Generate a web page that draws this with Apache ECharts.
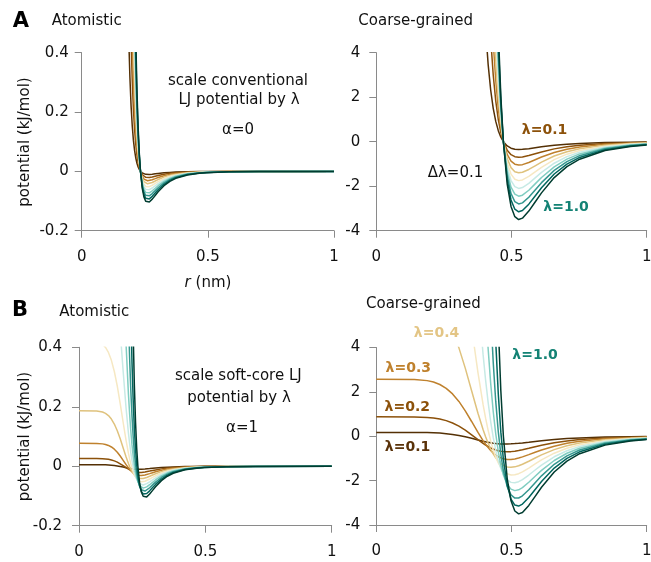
<!DOCTYPE html>
<html><head><meta charset="utf-8">
<script src="https://cdn.jsdelivr.net/npm/echarts@6/dist/echarts.min.js"></script>
<style>html,body{margin:0;padding:0;background:#fff}#c{width:651px;height:562px}</style>
</head><body><div id="c"></div>
<script>
// ---------- data ----------
const lambdas = ['0.1','0.2','0.3','0.4','0.5','0.6','0.7','0.8','0.9','1.0'];
const xTicks = [0, 0.5, 1];

// A, atomistic, conventional LJ scaled by lambda
const xAtomConv = [0.1864,0.1911,0.1957,0.2004,0.205,0.2097,0.2144,0.219,0.2237,0.2283,0.233,0.24,0.247,0.254,0.261,0.268,0.2796,0.2913,0.3029,0.3262,0.3495,0.3728,0.4194,0.466,0.4958,0.5825,0.699,1.0];
const atomConvY = [
[0.451,0.3163,0.2208,0.1528,0.1043,0.0697,0.045,0.0274,0.0149,0.0061,0,-0.0057,-0.0087,-0.0101,-0.0105,-0.0103,-0.0094,-0.0081,-0.0069,-0.0048,-0.0034,-0.0024,-0.0012,-0.0006,-0.0004,-0.0002,-0.0001,0],
[0.902,0.6326,0.4416,0.3056,0.2086,0.1394,0.0899,0.0547,0.0298,0.0122,0,-0.0114,-0.0175,-0.0202,-0.021,-0.0206,-0.0187,-0.0162,-0.0138,-0.0097,-0.0067,-0.0047,-0.0024,-0.0013,-0.0009,-0.0003,-0.0001,0],
[1.353,0.9489,0.6624,0.4584,0.3129,0.209,0.1349,0.0821,0.0447,0.0183,0,-0.0171,-0.0262,-0.0303,-0.0315,-0.0309,-0.0281,-0.0244,-0.0207,-0.0145,-0.0101,-0.0071,-0.0036,-0.0019,-0.0013,-0.0005,-0.0002,0],
[1.804,1.2652,0.8832,0.6112,0.4172,0.2787,0.1798,0.1095,0.0596,0.0244,0,-0.0229,-0.0349,-0.0404,-0.042,-0.0412,-0.0374,-0.0325,-0.0276,-0.0193,-0.0135,-0.0094,-0.0048,-0.0026,-0.0018,-0.0007,-0.0002,0],
[2.255,1.5815,1.104,0.764,0.5215,0.3484,0.2248,0.1369,0.0745,0.0306,0,-0.0286,-0.0437,-0.0506,-0.0525,-0.0515,-0.0468,-0.0406,-0.0345,-0.0242,-0.0168,-0.0118,-0.006,-0.0032,-0.0022,-0.0009,-0.0003,0],
[2.706,1.8978,1.3248,0.9168,0.6258,0.4181,0.2698,0.1642,0.0893,0.0367,0,-0.0343,-0.0524,-0.0607,-0.063,-0.0618,-0.0561,-0.0487,-0.0414,-0.029,-0.0202,-0.0141,-0.0072,-0.0039,-0.0027,-0.001,-0.0003,0],
[3.157,2.2141,1.5456,1.0696,0.7301,0.4878,0.3147,0.1916,0.1042,0.0428,0,-0.04,-0.0612,-0.0708,-0.0735,-0.0722,-0.0655,-0.0569,-0.0483,-0.0339,-0.0235,-0.0165,-0.0084,-0.0045,-0.0031,-0.0012,-0.0004,0],
[3.608,2.5304,1.7664,1.2224,0.8344,0.5574,0.3597,0.219,0.1191,0.0489,0,-0.0457,-0.0699,-0.0809,-0.084,-0.0825,-0.0748,-0.065,-0.0552,-0.0387,-0.0269,-0.0188,-0.0096,-0.0052,-0.0036,-0.0014,-0.0005,-0.0001],
[4.059,2.8467,1.9872,1.3752,0.9387,0.6271,0.4046,0.2463,0.134,0.055,0,-0.0514,-0.0786,-0.091,-0.0945,-0.0928,-0.0842,-0.0731,-0.0621,-0.0435,-0.0303,-0.0212,-0.0108,-0.0058,-0.004,-0.0015,-0.0005,-0.0001],
[4.51,3.163,2.208,1.528,1.043,0.6968,0.4496,0.2737,0.1489,0.0611,0,-0.0572,-0.0874,-0.1011,-0.105,-0.1031,-0.0936,-0.0812,-0.069,-0.0484,-0.0336,-0.0235,-0.012,-0.0065,-0.0045,-0.0017,-0.0006,-0.0001]
];

// A, coarse-grained, conventional LJ scaled by lambda
const xCGConv = [0.3948,0.4042,0.4136,0.423,0.4324,0.4418,0.4512,0.4606,0.47,0.4841,0.4982,0.5123,0.5264,0.5405,0.564,0.5875,0.611,0.658,0.705,0.752,0.846,0.94,1.0];
const cgConvY = [
[7.36,5.093,3.477,2.323,1.499,0.9125,0.4963,0.2037,0,-0.1905,-0.2912,-0.337,-0.3499,-0.3436,-0.3119,-0.2708,-0.23,-0.1612,-0.1121,-0.0785,-0.0399,-0.0215,-0.0149],
[14.72,10.186,6.954,4.646,2.998,1.825,0.9926,0.4074,0,-0.381,-0.5824,-0.674,-0.6998,-0.6872,-0.6238,-0.5416,-0.46,-0.3224,-0.2242,-0.157,-0.0798,-0.043,-0.0298],
[22.08,15.279,10.431,6.969,4.497,2.7375,1.4889,0.6111,0,-0.5715,-0.8736,-1.011,-1.0497,-1.0308,-0.9357,-0.8124,-0.69,-0.4836,-0.3363,-0.2355,-0.1197,-0.0645,-0.0447],
[29.44,20.372,13.908,9.292,5.996,3.65,1.9852,0.8148,0,-0.762,-1.1648,-1.348,-1.3996,-1.3744,-1.2476,-1.0832,-0.92,-0.6448,-0.4484,-0.314,-0.1596,-0.086,-0.0596],
[36.8,25.465,17.385,11.615,7.495,4.5625,2.4815,1.0185,0,-0.9525,-1.456,-1.685,-1.7495,-1.718,-1.5595,-1.354,-1.15,-0.806,-0.5605,-0.3925,-0.1995,-0.1075,-0.0745],
[44.16,30.558,20.862,13.938,8.994,5.475,2.9778,1.2222,0,-1.143,-1.7472,-2.022,-2.0994,-2.0616,-1.8714,-1.6248,-1.38,-0.9672,-0.6726,-0.471,-0.2394,-0.129,-0.0894],
[51.52,35.651,24.339,16.261,10.493,6.3875,3.4741,1.4259,0,-1.3335,-2.0384,-2.359,-2.4493,-2.4052,-2.1833,-1.8956,-1.61,-1.1284,-0.7847,-0.5495,-0.2793,-0.1505,-0.1043],
[58.88,40.744,27.816,18.584,11.992,7.3,3.9704,1.6296,0,-1.524,-2.3296,-2.696,-2.7992,-2.7488,-2.4952,-2.1664,-1.84,-1.2896,-0.8968,-0.628,-0.3192,-0.172,-0.1192],
[66.24,45.837,31.293,20.907,13.491,8.2125,4.4667,1.8333,0,-1.7145,-2.6208,-3.033,-3.1491,-3.0924,-2.8071,-2.4372,-2.07,-1.4508,-1.0089,-0.7065,-0.3591,-0.1935,-0.1341],
[73.6,50.93,34.77,23.23,14.99,9.125,4.963,2.037,0,-1.905,-2.912,-3.37,-3.499,-3.436,-3.119,-2.708,-2.3,-1.612,-1.121,-0.785,-0.399,-0.215,-0.149]
];

// B, atomistic, soft-core LJ (alpha = 1)
const xAtomSoft = [0,0.0699,0.0932,0.1049,0.1165,0.1282,0.1398,0.1515,0.1631,0.1748,0.1864,0.1957,0.2004,0.205,0.2097,0.2144,0.219,0.2237,0.2283,0.233,0.24,0.247,0.254,0.261,0.268,0.2796,0.2913,0.3029,0.3262,0.3495,0.3728,0.4194,0.466,0.4958,0.5825,0.699,1.0];
const atomSoftY = [
[0.0052,0.0051,0.0049,0.0047,0.0042,0.0035,0.0025,0.0011,-0.0007,-0.0028,-0.005,-0.0067,-0.0075,-0.0082,-0.0088,-0.0094,-0.0098,-0.0101,-0.0103,-0.0105,-0.0105,-0.0103,-0.01,-0.0095,-0.009,-0.008,-0.007,-0.0061,-0.0044,-0.0031,-0.0022,-0.0012,-0.0006,-0.0004,-0.0002,-0.0001,0],
[0.0263,0.0261,0.0255,0.0246,0.0233,0.0211,0.018,0.0137,0.0082,0.0019,-0.0046,-0.0096,-0.0118,-0.0139,-0.0157,-0.0173,-0.0185,-0.0195,-0.0203,-0.0207,-0.021,-0.0208,-0.0202,-0.0194,-0.0183,-0.0163,-0.0143,-0.0123,-0.0089,-0.0063,-0.0045,-0.0023,-0.0013,-0.0009,-0.0003,-0.0001,0],
[0.0771,0.0768,0.0752,0.0733,0.07,0.0648,0.0573,0.0471,0.0344,0.0199,0.0052,-0.0058,-0.0108,-0.0153,-0.0192,-0.0226,-0.0254,-0.0277,-0.0294,-0.0305,-0.0314,-0.0314,-0.0307,-0.0295,-0.0279,-0.0249,-0.0217,-0.0187,-0.0135,-0.0096,-0.0068,-0.0035,-0.0019,-0.0013,-0.0005,-0.0002,0],
[0.1867,0.1859,0.1823,0.1778,0.1704,0.1588,0.142,0.1195,0.0921,0.0616,0.0312,0.009,-0.0008,-0.0096,-0.0173,-0.0238,-0.0293,-0.0336,-0.037,-0.0394,-0.0414,-0.042,-0.0414,-0.0399,-0.0379,-0.0338,-0.0294,-0.0253,-0.0181,-0.0128,-0.0091,-0.0047,-0.0026,-0.0018,-0.0007,-0.0002,0],
[0.42,0.4182,0.4098,0.3996,0.3826,0.3562,0.3186,0.2693,0.2105,0.1471,0.086,0.0431,0.0245,0.008,-0.0062,-0.0182,-0.0282,-0.0361,-0.0422,-0.0467,-0.0508,-0.0524,-0.0522,-0.0506,-0.0481,-0.043,-0.0374,-0.032,-0.0229,-0.0162,-0.0115,-0.0059,-0.0032,-0.0022,-0.0009,-0.0003,0],
[0.945,0.9404,0.9196,0.8944,0.8525,0.7885,0.699,0.5849,0.4536,0.3184,0.1942,0.111,0.0761,0.0457,0.0199,-0.0016,-0.0191,-0.0329,-0.0436,-0.0514,-0.0589,-0.0624,-0.0629,-0.0614,-0.0586,-0.0524,-0.0456,-0.039,-0.0278,-0.0196,-0.0138,-0.0071,-0.0039,-0.0027,-0.001,-0.0003,0],
[2.2867,2.2732,2.2125,2.1395,2.0198,1.8409,1.5984,1.3029,0.9815,0.6718,0.4074,0.2417,0.175,0.1185,0.0717,0.0335,0.003,-0.0208,-0.0389,-0.0522,-0.0651,-0.0715,-0.0735,-0.0724,-0.0695,-0.0622,-0.0541,-0.0462,-0.0328,-0.023,-0.0162,-0.0083,-0.0045,-0.0031,-0.0012,-0.0004,0],
[6.72,6.6652,6.42,6.1307,5.6683,5.0057,4.1604,3.2095,2.2722,1.4629,0.8461,0.496,0.3635,0.2554,0.1687,0.1001,0.0467,0.006,-0.0245,-0.0467,-0.0681,-0.0793,-0.0836,-0.0835,-0.0805,-0.0724,-0.0628,-0.0535,-0.0378,-0.0265,-0.0186,-0.0095,-0.0052,-0.0036,-0.0014,-0.0005,-0.0001],
[34.02,33.5,31.25,28.74,25.0,20.23,15.0,10.13,6.243,3.532,1.8385,1.0183,0.7356,0.5169,0.3494,0.2225,0.1273,0.0569,0.0055,-0.0312,-0.0664,-0.085,-0.093,-0.0944,-0.0917,-0.0828,-0.0719,-0.0611,-0.0431,-0.03,-0.0211,-0.0108,-0.0058,-0.004,-0.0015,-0.0005,-0.0001],
[null,null,null,null,null,null,null,null,null,null,4.51,2.208,1.528,1.043,0.6968,0.4496,0.2737,0.1489,0.0611,0,-0.0572,-0.0874,-0.1011,-0.105,-0.1031,-0.0936,-0.0812,-0.069,-0.0484,-0.0336,-0.0235,-0.012,-0.0065,-0.0045,-0.0017,-0.0006,-0.0001]
];

// B, coarse-grained, soft-core LJ (alpha = 1)
const xCGSoft = [0,0.141,0.188,0.2115,0.235,0.2585,0.282,0.3055,0.329,0.3525,0.376,0.3948,0.4042,0.4136,0.423,0.4324,0.4418,0.4512,0.4606,0.47,0.4841,0.4982,0.5123,0.5264,0.5405,0.564,0.5875,0.611,0.658,0.705,0.752,0.846,0.94,1.0];
const cgSoftY = [
[0.173,0.171,0.164,0.156,0.141,0.118,0.083,0.036,-0.024,-0.094,-0.168,-0.225,-0.251,-0.274,-0.295,-0.312,-0.327,-0.338,-0.345,-0.349,-0.349,-0.343,-0.332,-0.318,-0.3,-0.268,-0.234,-0.202,-0.146,-0.105,-0.075,-0.039,-0.021,-0.015],
[0.875,0.87,0.848,0.822,0.776,0.704,0.599,0.455,0.274,0.064,-0.154,-0.32,-0.395,-0.463,-0.524,-0.575,-0.618,-0.651,-0.676,-0.691,-0.7,-0.693,-0.674,-0.646,-0.611,-0.544,-0.475,-0.409,-0.296,-0.211,-0.15,-0.078,-0.043,-0.03],
[2.571,2.56,2.507,2.442,2.332,2.16,1.909,1.569,1.146,0.665,0.172,-0.195,-0.36,-0.509,-0.641,-0.754,-0.848,-0.922,-0.978,-1.017,-1.047,-1.047,-1.024,-0.983,-0.931,-0.83,-0.724,-0.622,-0.448,-0.319,-0.227,-0.118,-0.064,-0.044],
[6.222,6.196,6.075,5.928,5.68,5.292,4.732,3.984,3.07,2.054,1.039,0.301,-0.025,-0.318,-0.575,-0.794,-0.976,-1.121,-1.232,-1.313,-1.382,-1.4,-1.379,-1.33,-1.262,-1.126,-0.981,-0.842,-0.604,-0.428,-0.304,-0.157,-0.085,-0.059],
[14,13.939,13.661,13.321,12.753,11.874,10.619,8.976,7.016,4.904,2.866,1.436,0.816,0.268,-0.207,-0.608,-0.939,-1.203,-1.406,-1.556,-1.693,-1.747,-1.738,-1.686,-1.604,-1.432,-1.246,-1.067,-0.763,-0.539,-0.382,-0.197,-0.107,-0.074],
[31.5,31.347,30.654,29.813,28.417,26.283,23.298,19.496,15.121,10.612,6.473,3.701,2.536,1.524,0.664,-0.053,-0.636,-1.097,-1.452,-1.714,-1.964,-2.079,-2.097,-2.048,-1.955,-1.748,-1.52,-1.3,-0.926,-0.652,-0.461,-0.237,-0.128,-0.089],
[76.22,75.77,73.75,71.32,67.33,61.36,53.28,43.43,32.72,22.39,13.579,8.056,5.832,3.951,2.39,1.117,0.101,-0.692,-1.295,-1.74,-2.169,-2.384,-2.45,-2.414,-2.315,-2.075,-1.803,-1.539,-1.092,-0.767,-0.54,-0.277,-0.15,-0.104],
[224,222.17,214,204.36,188.94,166.86,138.68,106.98,75.74,48.76,28.2,16.535,12.117,8.514,5.622,3.335,1.558,0.2,-0.815,-1.556,-2.271,-2.644,-2.788,-2.782,-2.683,-2.412,-2.095,-1.785,-1.262,-0.883,-0.621,-0.318,-0.172,-0.119],
[1134,1116.7,1041.8,957.9,833.5,674.2,500,337.7,208.1,117.73,61.28,33.94,24.52,17.229,11.647,7.415,4.244,1.896,0.184,-1.041,-2.213,-2.833,-3.1,-3.146,-3.058,-2.76,-2.396,-2.038,-1.435,-1.001,-0.702,-0.359,-0.194,-0.134],
[null,null,null,null,null,null,null,null,null,null,150.3,73.59,50.93,34.77,23.23,14.99,9.124,4.964,2.037,0,-1.906,-2.912,-3.37,-3.499,-3.436,-3.118,-2.708,-2.3,-1.612,-1.121,-0.785,-0.4,-0.215,-0.149]
];

// ---------- styling ----------
const lineColors = ['#543005','#8c510a','#bf812d','#dfc27d','#f6e8c3','#c7eae5','#80cdc1','#35978f','#01665e','#003c30'];
const FF = '"DejaVu Sans", sans-serif';
const axisGray = '#8a8a8a';
const textCol = '#111111';

const panels = [
  {x: xAtomConv, ys: atomConvY, grid: {left: 81.7, top: 52.7, width: 252.3, height: 178}, yMin: -0.2, yMax: 0.4, yInt: 0.2, yMargin: 13, xMargin: 19},
  {x: xCGConv, ys: cgConvY, grid: {left: 376.3, top: 52.7, width: 270.4, height: 178}, yMin: -4, yMax: 4, yInt: 2, yMargin: 16, xMargin: 19},
  {x: xAtomSoft, ys: atomSoftY, grid: {left: 79, top: 347.3, width: 252.7, height: 178.4}, yMin: -0.2, yMax: 0.4, yInt: 0.2, yMargin: 17, xMargin: 19},
  {x: xCGSoft, ys: cgSoftY, grid: {left: 376.3, top: 347.5, width: 270.4, height: 177.5}, yMin: -4, yMax: 4, yInt: 2, yMargin: 16, xMargin: 19}
];

const grids = [], xAxes = [], yAxes = [], series = [];
panels.forEach((p, k) => {
  grids.push(Object.assign({containLabel: false, outerBoundsMode: 'none'}, p.grid));
  const common = {
    gridIndex: k, type: 'value',
    axisLine: {show: true, onZero: false, lineStyle: {color: axisGray, width: 1}},
    axisTick: {show: true, inside: false, length: 7, lineStyle: {color: axisGray, width: 1}},
    splitLine: {show: false}
  };
  xAxes.push(Object.assign({}, common, {
    position: 'bottom', min: xTicks[0], max: xTicks[2], interval: xTicks[1] - xTicks[0],
    axisLabel: {margin: p.xMargin, color: textCol, fontSize: 15, fontFamily: FF}
  }));
  yAxes.push(Object.assign({}, common, {
    position: 'left', min: p.yMin, max: p.yMax, interval: p.yInt,
    axisLabel: {margin: p.yMargin, color: textCol, fontSize: 15, fontFamily: FF}
  }));
  p.ys.forEach((ys, i) => {
    const data = [];
    p.x.forEach((xv, j) => { if (ys[j] !== null) data.push([xv, ys[j]]); });
    series.push({
      type: 'line', xAxisIndex: k, yAxisIndex: k, data: data,
      name: 'λ=' + lambdas[i],
      showSymbol: false, symbol: 'none', clip: true, silent: true,
      animation: false, smooth: false,
      lineStyle: {color: lineColors[i], width: 1.5},
      itemStyle: {color: lineColors[i]},
      z: 2 + i
    });
  });
});

function T(text, x, y, o) {
  o = o || {};
  const size = o.size || 15;
  const font = (o.italic ? 'italic ' : '') + (o.bold ? 'bold ' : '') + size + 'px ' + FF;
  const st = {text: text, font: font, fill: o.color || textCol,
    align: o.align || 'center', verticalAlign: 'middle',
    textAlign: o.align || 'center', textVerticalAlign: 'middle'};
  if (o.rich) st.rich = o.rich;
  const el = {type: 'text', x: x, y: y, silent: true, z: 100, style: st};
  if (o.rotation) el.rotation = o.rotation;
  return el;
}

const graphics = [
  T('A', 21, 22, {bold: true, size: 21, color: '#000'}),
  T('Atomistic', 51.7, 21, {align: 'left'}),
  T('Coarse-grained', 358.3, 21, {align: 'left'}),
  T('B', 20, 310.5, {bold: true, size: 21, color: '#000'}),
  T('Atomistic', 59.3, 312, {align: 'left'}),
  T('Coarse-grained', 366, 304, {align: 'left'}),
  T('potential (kJ/mol)', 25, 142, {rotation: Math.PI / 2}),
  T('potential (kJ/mol)', 25, 436.5, {rotation: Math.PI / 2}),
  T('{i|r} (nm)', 208, 283, {rich: {i: {font: 'italic 15px ' + FF, fill: textCol}}}),
  T('scale conventional', 238, 81),
  T('LJ potential by λ', 239, 100),
  T('α=0', 238, 130),
  T('scale soft-core LJ', 238.3, 376),
  T('potential by λ', 239, 398),
  T('α=1', 242, 428),
  T('λ=0.1', 544.5, 130.5, {bold: true, size: 14, color: '#8c510a'}),
  T('Δλ=0.1', 455.5, 173),
  T('λ=1.0', 566, 207.5, {bold: true, size: 14, color: '#138274'}),
  T('λ=0.4', 436.5, 333, {bold: true, size: 14, color: '#e3c585'}),
  T('λ=1.0', 535, 355, {bold: true, size: 14, color: '#138274'}),
  T('λ=0.3', 408.3, 368, {bold: true, size: 14, color: '#bf812d'}),
  T('λ=0.2', 407.3, 407, {bold: true, size: 14, color: '#8c510a'}),
  T('λ=0.1', 407.5, 447, {bold: true, size: 14, color: '#5a3209'})
];

const option = {
  backgroundColor: '#ffffff',
  animation: false,
  textStyle: {fontFamily: FF},
  grid: grids, xAxis: xAxes, yAxis: yAxes, series: series,
  graphic: {elements: graphics}
};
const chart = echarts.init(document.getElementById('c'), null, {renderer: 'canvas'});
chart.setOption(option);
</script></body></html>
